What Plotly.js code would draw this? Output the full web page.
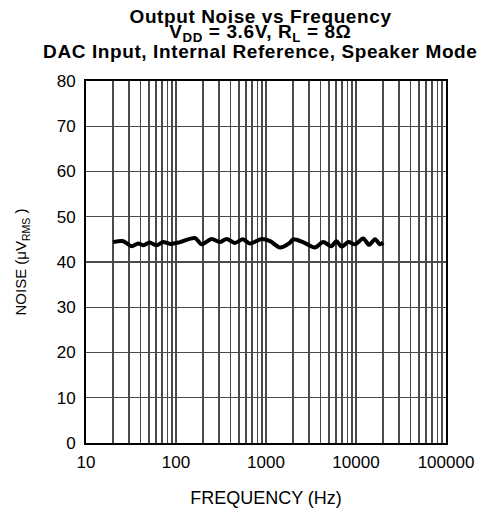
<!DOCTYPE html>
<html>
<head>
<meta charset="utf-8">
<script src="https://cdn.plot.ly/plotly-3.0.1.min.js"></script>
<style>html,body{margin:0;padding:0;background:#fff;}#chart{width:492px;height:512px;}
#chart .annotation-text{letter-spacing:0.6px;}</style>
</head>
<body>
<div id="chart"></div>
<script>
const frequencyHz = [20, 26, 32, 38, 43, 51, 61, 72, 86, 111, 162, 193, 249, 306, 366, 450, 555, 660, 896, 1110, 1430, 1850, 2000, 2570, 3480, 4310, 5340, 6050, 6920, 8220, 9800, 12000, 14000, 16300, 18500, 20000];
const noiseUv = [44.4, 44.6, 43.5, 44.1, 43.7, 44.3, 43.7, 44.4, 44.0, 44.4, 45.3, 43.9, 45.1, 44.4, 45.1, 44.2, 45.0, 44.1, 45.1, 44.6, 43.2, 44.3, 45.0, 44.4, 43.2, 44.4, 43.5, 44.6, 43.4, 44.4, 43.9, 45.2, 43.8, 45.0, 43.9, 44.3];

const titleLines = [
  '<b>Output Noise vs Frequency</b>',
  '<b>V<sub>DD</sub> = 3.6V, R<sub>L</sub> = 8Ω</b>',
  '<b>DAC Input, Internal Reference, Speaker Mode</b>'
];

const gridFreqs = [];
const gridLabels = [];
const decades = [10, 100, 1000, 10000];
decades.forEach(d => {
  for (let m = 1; m <= 9; m++) {
    gridFreqs.push(d * m);
    gridLabels.push(m === 1 ? String(d) : '');
  }
});
gridFreqs.push(100000);
gridLabels.push('100000');

const yTicks = [0, 10, 20, 30, 40, 50, 60, 70, 80];

const trace = {
  x: frequencyHz,
  y: noiseUv,
  type: 'scatter',
  mode: 'lines',
  line: {color: '#000', width: 4, shape: 'spline', smoothing: 0.8},
  hoverinfo: 'skip'
};

const fam = '"Liberation Sans", Arial, sans-serif';
const plotTop = 81, plotH = 512 - 81 - 69;
const titleCenters = [16, 33, 51];

const annotations = titleLines.map((t, i) => ({
  text: t,
  xref: 'paper', yref: 'paper',
  x: 0.485, y: 1 + (plotTop - titleCenters[i]) / plotH,
  xanchor: 'center', yanchor: 'middle',
  showarrow: false,
  font: {family: fam, size: 19, color: '#000'}
}));

const layout = {
  width: 492,
  height: 512,
  margin: {l: 86, r: 46, t: 81, b: 69},
  paper_bgcolor: '#fff',
  plot_bgcolor: '#fff',
  showlegend: false,
  font: {family: fam, color: '#000'},
  annotations: annotations,
  xaxis: {
    type: 'log',
    range: [1, 5],
    tickmode: 'array',
    tickvals: gridFreqs,
    ticktext: gridLabels,
    ticks: '',
    ticklabelstandoff: 3,
    showgrid: true,
    gridcolor: '#4a4a4a',
    gridwidth: 1.3,
    showline: true,
    linecolor: '#000',
    linewidth: 2,
    mirror: true,
    zeroline: false,
    tickfont: {family: fam, size: 17, color: '#000'},
    title: {text: 'FREQUENCY (Hz)', font: {family: fam, size: 18, color: '#000'}, standoff: 20}
  },
  yaxis: {
    range: [0, 80],
    tickmode: 'array',
    tickvals: yTicks,
    ticktext: yTicks.map(String),
    ticks: '',
    ticklabelstandoff: 5,
    showgrid: true,
    gridcolor: '#4a4a4a',
    gridwidth: 1.3,
    showline: true,
    linecolor: '#000',
    linewidth: 2,
    mirror: true,
    zeroline: false,
    tickfont: {family: fam, size: 17, color: '#000'},
    title: {text: 'NOISE (μV<sub>RMS</sub> )', font: {family: fam, size: 15, color: '#000'}, standoff: 26}
  }
};

Plotly.newPlot('chart', [trace], layout, {displayModeBar: false, staticPlot: true});
</script>
</body>
</html>
